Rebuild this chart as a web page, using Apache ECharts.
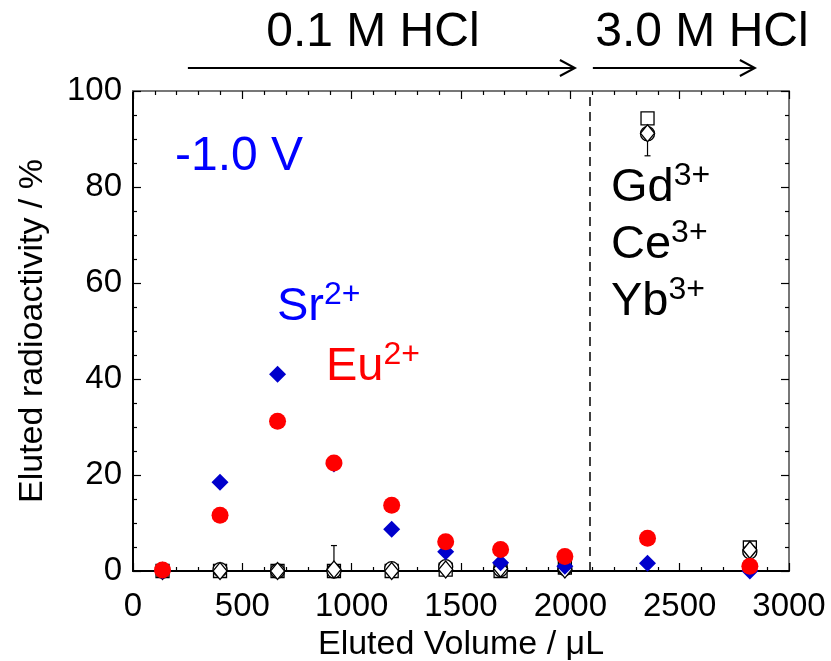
<!DOCTYPE html>
<html>
<head>
<meta charset="utf-8">
<script src="https://cdn.jsdelivr.net/npm/echarts@6/dist/echarts.min.js"></script>
<style>
  html, body { margin: 0; padding: 0; background: #fff; }
  #chart { width: 831px; height: 661px; }
</style>
</head>
<body>
<div id="chart"></div>
<script>
// Eluted volume of each fraction (µL)
const elutedVolume = [135, 398, 661, 919, 1183, 1430, 1681, 1975, 2353, 2821];
// Eluted radioactivity (%) per fraction
const sr = [0.0, 18.5, 41.0, 22.3, 8.7, 4.0, 1.7, 1.0, 1.6, 0.0];
const eu = [0.2, 11.6, 31.2, 22.5, 13.7, 6.1, 4.5, 3.0, 6.8, 1.0];
const gd = [0.0, 0.0, 0.0, 0.0, 0.0, 0.3, 0.0, 0.7, 94.3, 4.9];
const ce = [0.0, 0.3, 0.0, 0.0, 0.5, 0.9, 0.3, 0.5, 91.1, 4.0];
const yb = [0.0, 0.0, 0.0, 0.3, 0.0, 0.3, 0.5, 0.3, 91.2, 4.4];
// Error bars on the Yb points: [volume, low, high]
const ybError = [[919, 0.0, 5.3], [2353, 86.5, 95.5]];
// Switch of eluent (µL)
const eluentSwitch = 2090;
// Eluent ranges drawn as arrows above the plot: [from, to, label centre, label]
const eluentRanges = [[251, 2021, 1097, '0.1 M HCl'], [2103, 2844, 2602, '3.0 M HCl']];

const FONT = 'Liberation Sans, Arial, Helvetica, sans-serif';
const pairs = (vals) => elutedVolume.map((v, i) => [v, vals[i]]);
const plain = (v) => String(v);

const chart = echarts.init(document.getElementById('chart'));

function axisBase(extra) {
  return Object.assign({
    type: 'value',
    splitLine: { show: false },
    minorSplitLine: { show: false },
    axisTick: { show: true, inside: true, length: 8, lineStyle: { color: '#000', width: 1.2 } }
  }, extra);
}

const labelStyle = (margin) => ({ color: '#000', fontSize: 33, fontFamily: FONT, margin, formatter: plain });

const openMarker = (name, symbol, size, vals) => ({
  name, type: 'scatter', symbol, symbolSize: size, data: pairs(vals),
  itemStyle: { color: '#fff', borderColor: '#000', borderWidth: 1.3, opacity: 1 },
  z: 3
});

chart.setOption({
  animation: false,
  grid: { left: 133, right: 42, top: 91, bottom: 90, containLabel: false, outerBoundsMode: 'none' },
  xAxis: [
    axisBase({
      position: 'bottom', min: 0, max: 3000, interval: 500,
      axisLine: { lineStyle: { color: '#000', width: 2 } },
      minorTick: { show: true, splitNumber: 5, length: 4, lineStyle: { color: '#000', width: 1.2 } },
      axisLabel: labelStyle(19),
      name: 'Eluted Volume / \u03bcL', nameLocation: 'middle', nameGap: 51,
      nameTextStyle: { color: '#000', fontSize: 34, fontFamily: FONT }
    }),
    axisBase({
      position: 'top', min: 0, max: 3000, interval: 500,
      axisLine: { onZero: false, lineStyle: { color: '#777', width: 2 } },
      minorTick: { show: true, splitNumber: 5, length: 4, lineStyle: { color: '#000', width: 1.2 } },
      axisLabel: { show: false }
    })
  ],
  yAxis: [
    axisBase({
      position: 'left', min: 0, max: 100, interval: 20,
      axisLine: { show: true, lineStyle: { color: '#000', width: 2 } },
      minorTick: { show: true, splitNumber: 4, length: 4, lineStyle: { color: '#000', width: 1.2 } },
      axisLabel: labelStyle(11),
      name: 'Eluted radioactivity / %', nameLocation: 'middle', nameGap: 83, nameRotate: 90,
      nameTextStyle: { color: '#000', fontSize: 34, fontFamily: FONT }
    }),
    axisBase({
      position: 'right', min: 0, max: 100, interval: 20,
      axisLine: { show: true, onZero: false, lineStyle: { color: '#777', width: 2 } },
      minorTick: { show: true, splitNumber: 4, length: 4, lineStyle: { color: '#000', width: 1.2 } },
      axisLabel: { show: false }
    })
  ],
  series: [
    {
      name: 'errYb', type: 'custom', z: 2,
      data: ybError,
      renderItem: (params, api) => {
        const x = api.value(0);
        const lo = api.coord([x, api.value(1)]);
        const hi = api.coord([x, api.value(2)]);
        const cap = 3;
        const st = { stroke: '#000', lineWidth: 1.2 };
        return {
          type: 'group',
          children: [
            { type: 'line', shape: { x1: lo[0], y1: lo[1], x2: hi[0], y2: hi[1] }, style: st },
            { type: 'line', shape: { x1: hi[0] - cap, y1: hi[1], x2: hi[0] + cap, y2: hi[1] }, style: st },
            { type: 'line', shape: { x1: lo[0] - cap, y1: lo[1], x2: lo[0] + cap, y2: lo[1] }, style: st }
          ]
        };
      },
      markLine: {
        silent: true, symbol: 'none', animation: false,
        label: { show: false },
        lineStyle: { color: '#000', width: 1.5, type: [9, 6] },
        data: [{ xAxis: eluentSwitch }]
      }
    },
    openMarker('Gd', 'rect', 13, gd),
    openMarker('Ce', 'circle', 14, ce),
    openMarker('Yb', 'diamond', [14, 17], yb),
    {
      name: 'Sr', type: 'scatter', symbol: 'diamond', symbolSize: 17, data: pairs(sr),
      itemStyle: { color: '#0000cc', opacity: 1 }, z: 4
    },
    {
      name: 'Eu', type: 'scatter', symbol: 'circle', symbolSize: 17, data: pairs(eu),
      itemStyle: { color: '#ff0000', opacity: 1 }, z: 5
    }
  ]
});

// Annotations: eluent arrows above the frame and ion labels inside it
const xPix = (v) => chart.convertToPixel({ xAxisIndex: 0 }, v);
const frameTop = chart.convertToPixel({ yAxisIndex: 0 }, 100);
const arrowY = frameTop - 23;
const graphics = [];
eluentRanges.forEach(([a, b, c, label]) => {
  const x1 = xPix(a), x2 = xPix(b);
  graphics.push({ type: 'line', shape: { x1, y1: arrowY, x2, y2: arrowY }, style: { stroke: '#000', lineWidth: 2 } });
  graphics.push({ type: 'polyline', shape: { points: [[x2 - 15, arrowY - 8], [x2, arrowY], [x2 - 15, arrowY + 8]] }, style: { stroke: '#000', lineWidth: 2, fill: null } });
  graphics.push({ type: 'text', x: xPix(c), y: arrowY - 35, style: { text: label, font: '48px ' + FONT, fill: '#000', align: 'center', verticalAlign: 'middle' } });
});

const ionLabel = (ion, charge, color, x, y) => ({
  type: 'text', x, y,
  style: {
    text: '{m|' + ion + '}{s|' + charge + '}',
    align: 'left', verticalAlign: 'middle',
    rich: {
      m: { fontSize: 47, fontFamily: FONT, fill: color, color: color, verticalAlign: 'bottom', lineHeight: 52 },
      s: { fontSize: 32, fontFamily: FONT, fill: color, color: color, verticalAlign: 'top', lineHeight: 52 }
    }
  }
});

graphics.push({ type: 'text', x: 175, y: 157, style: { text: '-1.0 V', font: '48px ' + FONT, fill: '#0000ff', align: 'left', verticalAlign: 'middle' } });
graphics.push(ionLabel('Sr', '2+', '#0000ff', 277, 305));
graphics.push(ionLabel('Eu', '2+', '#ff0000', 326, 365));
graphics.push(ionLabel('Gd', '3+', '#000', 611, 186));
graphics.push(ionLabel('Ce', '3+', '#000', 611, 243));
graphics.push(ionLabel('Yb', '3+', '#000', 611, 300));

chart.setOption({ graphic: graphics });
</script>
</body>
</html>
